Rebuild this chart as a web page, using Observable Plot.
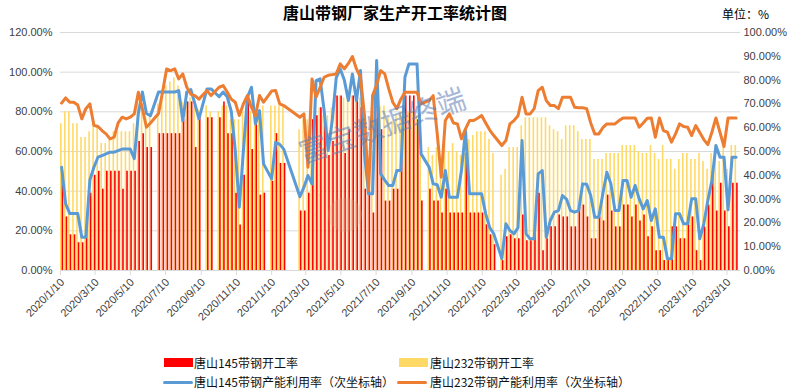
<!DOCTYPE html>
<html><head><meta charset="utf-8">
<script src="https://cdn.jsdelivr.net/npm/d3@7"></script>
<script src="https://cdn.jsdelivr.net/npm/@observablehq/plot@0.6"></script>
<style>
body{margin:0;background:#fff;}
#wrap{position:relative;width:790px;height:391px;overflow:hidden;font-family:"Noto Sans CJK SC","Liberation Sans",sans-serif;color:#000;background:#fff;}
#hdr{position:relative;height:25px;}
#title{position:absolute;left:0;top:0;width:790px;text-align:center;line-height:25px;font-size:16px;font-weight:bold;}
#unit{position:absolute;left:722px;top:4px;font-size:12px;line-height:20px;}
#chart svg{display:block;}
#legend{position:relative;height:44px;font-size:12px;color:#111;}
.sw{position:absolute;}
.lt{position:absolute;line-height:18px;white-space:nowrap;}
</style></head>
<body>
<div id="wrap">
  <div id="hdr"><div id="title">唐山带钢厂家生产开工率统计图</div><div id="unit">单位：%</div></div>
  <div id="chart"></div>
  <div id="legend"></div>
</div>
<script>
// ---------- data ----------
const weeks = [
"2020-01-10","2020-01-17","2020-01-24","2020-01-31","2020-02-07","2020-02-14","2020-02-21","2020-02-28","2020-03-06","2020-03-13",
"2020-03-20","2020-03-27","2020-04-03","2020-04-10","2020-04-17","2020-04-24","2020-05-01","2020-05-08","2020-05-15","2020-05-22",
"2020-05-29","2020-06-05","2020-06-12","2020-06-19","2020-06-26","2020-07-03","2020-07-10","2020-07-17","2020-07-24","2020-07-31",
"2020-08-07","2020-08-14","2020-08-21","2020-08-28","2020-09-04","2020-09-11","2020-09-18","2020-09-25","2020-10-02","2020-10-09",
"2020-10-16","2020-10-23","2020-10-30","2020-11-06","2020-11-13","2020-11-20","2020-11-27","2020-12-04","2020-12-11","2020-12-18",
"2020-12-25","2021-01-01","2021-01-08","2021-01-15","2021-01-22","2021-01-29","2021-02-05","2021-02-12","2021-02-19","2021-02-26",
"2021-03-05","2021-03-12","2021-03-19","2021-03-26","2021-04-02","2021-04-09","2021-04-16","2021-04-23","2021-04-30","2021-05-07",
"2021-05-14","2021-05-21","2021-05-28","2021-06-04","2021-06-11","2021-06-18","2021-06-25","2021-07-02","2021-07-09","2021-07-16",
"2021-07-23","2021-07-30","2021-08-06","2021-08-13","2021-08-20","2021-08-27","2021-09-03","2021-09-10","2021-09-17","2021-09-24",
"2021-10-01","2021-10-08","2021-10-15","2021-10-22","2021-10-29","2021-11-05","2021-11-12","2021-11-19","2021-11-26","2021-12-03",
"2021-12-10","2021-12-17","2021-12-24","2021-12-31","2022-01-07","2022-01-14","2022-01-21","2022-01-28","2022-02-04","2022-02-11",
"2022-02-18","2022-02-25","2022-03-04","2022-03-11","2022-03-18","2022-03-25","2022-04-01","2022-04-08","2022-04-15","2022-04-22",
"2022-04-29","2022-05-06","2022-05-13","2022-05-20","2022-05-27","2022-06-03","2022-06-10","2022-06-17","2022-06-24","2022-07-01",
"2022-07-08","2022-07-15","2022-07-22","2022-07-29","2022-08-05","2022-08-12","2022-08-19","2022-08-26","2022-09-02","2022-09-09",
"2022-09-16","2022-09-23","2022-09-30","2022-10-07","2022-10-14","2022-10-21","2022-10-28","2022-11-04","2022-11-11","2022-11-18",
"2022-11-25","2022-12-02","2022-12-09","2022-12-16","2022-12-23","2022-12-30","2023-01-06","2023-01-13","2023-01-20","2023-01-27",
"2023-02-03","2023-02-10","2023-02-17","2023-02-24","2023-03-03","2023-03-10","2023-03-17","2023-03-24"];

// 唐山145带钢开工率 (left axis, %)
const red145 = [
50,27,18,18,14,14,23,39,48,50, 41,50,50,50,50,41,50,50,50,65,
69,62,62,null,69,69,69,69,69,69, 76,85,85,62,77,null,77,77,null,77,
85,69,69,39,23,48,85,61,76,38, 39,null,45,69,54,54,null,null,null,30,
30,39,76,78,82,75,58,65,88,88, 59,71,88,88,82,41,40,29,84,71,
35,35,41,41,60,88,88,88,76,35, null,41,35,35,29,41,29,29,29,29,
59,29,29,29,29,23,18,13,null,5, 17,18,16,16,28,15,15,18,39,10,
16,22,22,28,27,27,22,22,33,33, 27,16,16,27,25,38,30,22,22,33,
33,27,33,25,28,17,22,10,10,5, 5,22,22,16,16,27,27,10,5,22,
33,50,30,44,30,22,44,44];

// 唐山232带钢开工率 (left axis, %)
const yellow232 = [
74,80,80,74,74,67,67,70,74,72, 64,64,67,70,70,70,70,70,74,87,
82,77,79,null,84,91,93,95,97,93, 85,90,87,83,81,null,83,80,null,80,
83,83,76,76,76,80,85,80,76,80, 83,null,83,83,83,83,null,null,null,71,
76,76,74,82,82,78,78,82,86,88, 87,87,88,87,87,68,55,60,77,83,
83,77,75,78,80,80,80,80,78,60, null,62,58,62,55,64,60,64,60,58,
64,66,68,70,70,70,66,59,null,48, 51,62,62,62,73,77,77,77,77,77,
77,73,71,70,66,73,73,73,70,66, 66,66,56,56,56,59,59,59,59,63,
63,63,63,60,59,59,63,59,56,63, 56,56,51,56,59,59,56,56,59,55,
51,59,63,55,63,51,63,63];

// 唐山145带钢产能利用率 (right axis, %)
const blue145 = [
43.4,28,24,24,24,14,14,38,43.4,47.6, 48.3,49,49.7,49.7,50.4,51,51,51,47,66,
75,66,65,null,75,75,75,75,75,75.6, 63,75,76,70,63.7,null,76.3,76.3,null,73,
75,73,67,50.4,26.6,50,72.8,77,61.6,67.2, 44.8,null,38.5,53.9,53,51,null,null,null,31,
35,39.9,36.4,79.8,80.5,67.2,50.4,63,81,84.7, 80,71.4,82.6,71.4,84,49,32.2,32.2,88.2,40.6,
38,35.7,35.7,42,42,81.2,86.8,86.8,86.8,49, null,43.4,36.4,36,30.8,42,30.8,30.8,30.8,42,
58.8,32.2,32.2,32.2,32.2,23.8,18,15.4,null,5, 19.6,16.8,15.4,18,54.6,15.4,13.3,13.3,40.6,42,
14,21,24.5,25.2,31.5,30,25.2,24.5,25.2,36.4, 36.2,31.5,22.4,22.4,32.2,41.3,36.4,25.2,25.2,37.8,
37.8,30.8,35.7,30.1,25.9,29.4,21,25.9,14,14, 4.9,4.9,23.8,23.8,19.6,19.6,30.1,30.1,13.3,19.6,
29.4,37.8,52.5,47.6,47.6,25.5,47.6,47.6];

// 唐山232带钢产能利用率 (right axis, %)
const orange232 = [
70.3,72.5,70.7,70.7,69.5,63.7,68,70,61,60.5, 58.8,57.4,55.3,56,62,64.4,63.7,64.4,65.8,74.9,
68,60.2,62,null,66,75,84.7,84,84.7,80.5, 82.6,77,74,73.5,72,null,75.6,73.5,null,77,
77.7,75,72,70.7,65.1,70,73.5,68.6,65,73.5, 70.7,null,75.4,75.6,70,69.3,null,null,null,64.4,
65.8,43.4,80.5,72.8,77,81.2,82,82.3,82.6,86.8, 84.7,87,89.9,84.7,81.2,65,33.6,73.5,78,84,
82.6,76.3,70.7,68,72,74.9,74.9,74.9,74.9,70, null,71.4,73.5,57.4,39.2,63,65.8,62,61.6,55.3,
59.5,63,63,64,65.1,62,59,56.7,null,52.5, 54.6,61.6,63,65,72.8,65.8,65.8,68,75.6,77,
71.4,69.3,69.3,68,72.8,72.8,72.8,68.6,68.4,68.4, 68,62,57.4,57.4,60,61.6,61.6,61.6,63,64.1,
64.1,64.1,64.1,60.2,62,64,64.1,56,64.1,58.8, 58.1,53.9,57.4,61.6,60.5,60.2,56.7,60.9,58,55,
52.9,58.1,64.1,58.1,52.1,64.1,64.1,64.1];

const tickLabels = ["2020/1/10","2020/3/10","2020/5/10","2020/7/10","2020/9/10","2020/11/10",
"2021/1/10","2021/3/10","2021/5/10","2021/7/10","2021/9/10","2021/11/10",
"2022/1/10","2022/3/10","2022/5/10","2022/7/10","2022/9/10","2022/11/10",
"2023/1/10","2023/3/10"];
const leftTicks = [0,20,40,60,80,100,120];
const rightTicks = [0,10,20,30,40,50,60,70,80,90,100];

const seriesNames = ["唐山145带钢开工率","唐山232带钢开工率","唐山145带钢产能利用率（次坐标轴）","唐山232带钢产能利用率（次坐标轴）"];
const seriesColors = ["#FF0000","#FFD966","#5B9BD5","#ED7D31"];

// ---------- build ----------
const parseISO = d3.utcParse("%Y-%m-%d");
const parseSlash = d3.utcParse("%Y/%m/%d");
const RATIO = 120/100; // secondary axis (0-100) onto primary (0-120)
const rows = weeks.map((w,i)=>({date: parseISO(w), r: red145[i], y: yellow232[i], b: blue145[i], o: orange232[i]}));
const barRows = rows.filter(d => d.y != null || d.r != null);
const blueRows = rows.filter(d => d.b != null);
const orangeRows = rows.filter(d => d.o != null);
const fmt = v => v.toFixed(2) + "%";

const chart = Plot.plot({
  width: 790, height: 322,
  marginTop: 7, marginBottom: 77, marginLeft: 60, marginRight: 50,
  style: {fontFamily: "'Liberation Sans', Arial, sans-serif", fontSize: "11px", color: "#404040", background: "#fff", overflow: "visible"},
  x: {type: "utc", domain: [parseISO("2020-01-10"), new Date(Date.UTC(2023,3,2,12))], axis: null},
  y: {domain: [0,120], axis: null},
  marks: [
    Plot.gridY({ticks: leftTicks, stroke: "#d9d9d9", strokeOpacity: 1}),
    Plot.axisY({ticks: leftTicks, anchor: "left", tickSize: 0, tickPadding: 8, tickFormat: fmt, fill: "#404040"}),
    Plot.axisY({ticks: rightTicks.map(v => v*RATIO), anchor: "right", tickSize: 0, tickPadding: 3, tickFormat: d => fmt(Math.round(d/RATIO)), fill: "#404040"}),
    Plot.ruleX(barRows.filter(d=>d.y!=null), {x: "date", y1: 0, y2: "y", stroke: seriesColors[1], strokeWidth: 1.6, dx: 0.3}),
    Plot.ruleX(barRows.filter(d=>d.r!=null), {x: "date", y1: 0, y2: "r", stroke: seriesColors[0], strokeWidth: 1.6, dx: 1.9}),
    Plot.ruleY([0], {stroke: "#d9d9d9"}),
    Plot.axisX({ticks: tickLabels.map(parseSlash), tickSize: 5, tickFormat: () => "", stroke: "#d9d9d9"}),
    Plot.text(tickLabels, {x: d => parseSlash(d), text: d => d, frameAnchor: "bottom", rotate: -45, textAnchor: "end", lineAnchor: "middle", dx: 2, dy: 10, fontSize: 11, fill: "#404040"}),
    Plot.line(blueRows, {x: "date", y: d => d.b*RATIO, stroke: seriesColors[2], strokeWidth: 3, strokeLinejoin: "round", strokeLinecap: "round", dx: 1.1}),
    Plot.line(orangeRows, {x: "date", y: d => d.o*RATIO, stroke: seriesColors[3], strokeWidth: 3, strokeLinejoin: "round", strokeLinecap: "round", dx: 1.1})
  ]
});
document.getElementById("chart").appendChild(chart);

// watermark
const svg = d3.select(chart);
svg.append("circle").attr("cx", 345).attr("cy", 190).attr("r", 17).attr("fill", "#d9a080").attr("opacity", 0.25);
svg.append("text").text("富宝数据终端")
  .attr("x", 383).attr("y", 103).attr("text-anchor", "middle").attr("dominant-baseline", "middle")
  .attr("transform", "rotate(-19,383,103)")
  .attr("font-family", "'Noto Sans CJK SC', sans-serif").attr("font-size", 29)
  .attr("fill", "#5f7fb5").attr("opacity", 0.55);

// legend
const lg = document.getElementById("legend");
const pos = [[164,194,7],[399,430,7],[163,194,26],[397,430,26]];
seriesNames.forEach((name,i) => {
  const [sx, tx, top] = pos[i];
  const sw = document.createElement("div");
  sw.className = "sw";
  if (i < 2) {
    sw.style.cssText = `left:${sx}px;top:${top+4}px;width:29px;height:9px;background:${seriesColors[i]}`;
  } else {
    sw.style.cssText = `left:${sx}px;top:${top+7.5}px;width:30px;height:3px;border-radius:1.5px;background:${seriesColors[i]}`;
  }
  lg.appendChild(sw);
  const t = document.createElement("div");
  t.className = "lt";
  t.style.cssText = `left:${tx}px;top:${top}px`;
  t.textContent = name;
  lg.appendChild(t);
});
</script>
</body></html>
